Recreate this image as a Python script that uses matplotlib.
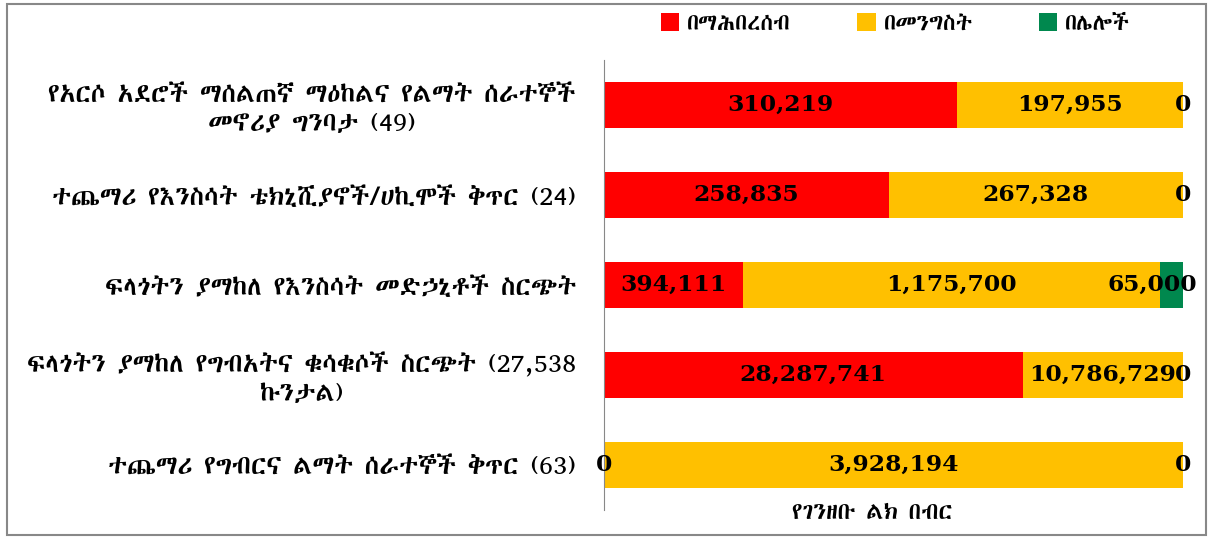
import matplotlib
matplotlib.use("Agg")
import matplotlib.pyplot as plt
from matplotlib import font_manager
from matplotlib.ft2font import FT2Font
from matplotlib.patches import Rectangle
import numpy as np

categories = [
    "የአርሶ አደሮች ማሰልጠኛ ማዕከልና የልማት ሰራተኞች\nመኖሪያ ግንባታ (49)",
    "ተጨማሪ የእንስሳት ቴክኒሺያኖች/ሀኪሞች ቅጥር (24)",
    "ፍላጎትን ያማከለ የእንስሳት መድኃኒቶች ስርጭት",
    "ፍላጎትን ያማከለ የግብአትና ቁሳቁሶች ስርጭት (27,538\nኩንታል)",
    "ተጨማሪ የግብርና ልማት ሰራተኞች ቅጥር (63)",
]
series_names = ["በማሕበረሰብ", "በመንግስት", "በሌሎች"]
community = [310219, 258835, 394111, 28287741, 0]
government = [197955, 267328, 1175700, 10786729, 3928194]
others = [0, 0, 65000, 0, 0]
colors = ["#FF0000", "#FFC000", "#00884E"]
xlabel = "የገንዘቡ ልክ በብር"


def find_ethiopic():
    found = []
    for f in font_manager.fontManager.ttflist:
        try:
            if FT2Font(f.fname).get_char_index(ord("በ")):
                found.append(f)
        except Exception:
            pass

    def score(f):
        n = f.name.lower()
        s = 0
        for good in ["ethiopic", "abyssinica", "nyala", "ebrima"]:
            if good in n:
                s -= 10
        for bad in ["mono", "unifont", "code"]:
            if bad in n:
                s += 10
        if f.weight not in (400, "normal", "regular"):
            s += 1
        return s

    found.sort(key=score)
    return found[0].name if found else None


eth = find_ethiopic()
fam = [eth, "DejaVu Serif"] if eth else ["DejaVu Sans"]
plt.rcParams["font.family"] = fam

data = np.array([community, government, others], dtype=float)
shares = data / data.sum(axis=0)

fig = plt.figure(figsize=(12.12, 5.38), dpi=100)
ax = fig.add_axes([0.498, 0.052, 0.478, 0.836])

y = np.arange(len(categories))
left = np.zeros(len(categories))
for k in range(3):
    ax.barh(y, shares[k], left=left, height=0.51, color=colors[k],
            label=series_names[k])
    for i in range(len(categories)):
        c = left[i] + shares[k][i] / 2
        if data[k][i] > 0:
            c = min(c, 0.948)
        ax.text(c, y[i], f"{int(data[k][i]):,}", ha="center", va="center",
                fontsize=16.8, fontweight="bold", family="DejaVu Serif",
                clip_on=False)
    left += shares[k]

ax.set_xlim(0, 1)
ax.set_ylim(len(categories) - 0.5, -0.5)
ax.set_yticks(y)
ax.set_yticklabels(categories, fontsize=16)
for lab in ax.get_yticklabels():
    lab.set_multialignment("center")
ax.tick_params(axis="y", length=0, pad=20)
ax.set_xticks([])
for s in ["top", "right", "bottom"]:
    ax.spines[s].set_visible(False)
ax.spines["left"].set_color("#888888")

# size the category labels so the single-line one spans about 525 px
r = fig.canvas.get_renderer()
w = ax.get_yticklabels()[1].get_window_extent(r).width
ts = 16 * 525 / w
for lab in ax.get_yticklabels():
    lab.set_fontsize(ts)

leg = fig.legend(loc="center", bbox_to_anchor=(0.739, 0.955), ncol=3,
                 frameon=False, fontsize=ts * 0.87, handlelength=0.8,
                 handleheight=0.8, columnspacing=2.9, handletextpad=0.35)

fig.text(0.72, 0.048, xlabel, ha="center", va="center", fontsize=ts * 0.9,
         bbox=dict(facecolor="white", edgecolor="none", pad=4))

fig.add_artist(Rectangle((0.006, 0.006), 0.989, 0.987, transform=fig.transFigure,
                         fill=False, edgecolor="#888888", linewidth=1.5))

fig.savefig("out.png", dpi=100)
